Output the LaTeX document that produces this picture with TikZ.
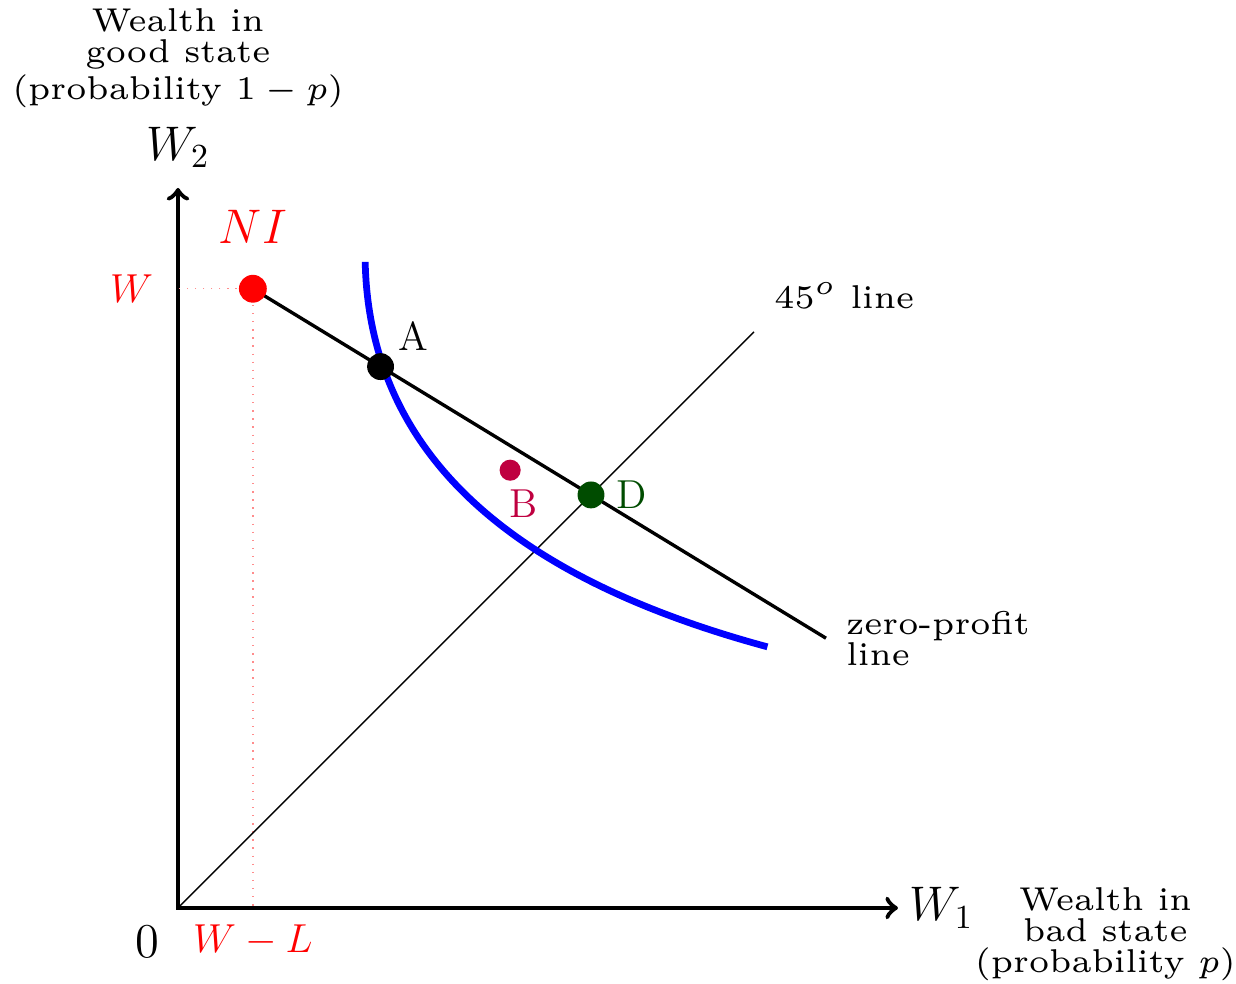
\documentclass[tikz,border=0pt]{standalone}
\usepackage{amsmath}
\usetikzlibrary{positioning,calc}
\colorlet{dgreen}{green!30!black}

\begin{document}
\begin{tikzpicture}[
  >=to,
  axis/.style={<->,line width=1.4pt},
  dot/.style={circle,fill,inner sep=0pt,minimum size=2.8mm},
  guide/.style={red!45,dotted,thin},
  smtxt/.style={font=\fontsize{6}{5.65}\selectfont,scale=1.63,transform shape},
  stack/.style={smtxt,align=center},
  curve/.style={blue,line width=2pt},
  budget/.style={line width=1pt}
]

% ---- page frame ----
\useasboundingbox (-1.854,-0.792) rectangle (11.021,9.458);

% ---- axes ----
\coordinate (O) at (0,0);
\coordinate (xend) at (7.5,0);
\coordinate (yend) at (0,7.5);
\coordinate (xt) at (9.66,-0.27);
\coordinate (yt) at (0,8.85);
\draw[axis] (yend) -- (O) -- (xend);

\node[font=\Large,below left=0.7mm and 0.75mm of O] (zero) {$0$};
\node[font=\Large,right=0mm of xend] (W1) {$W_1$};
\node[font=\Large,above=0.9mm of yend] (W2) {$W_2$};
\node[stack] (xtxt) at (xt) {Wealth in\\bad state\\(probability $p$)};
\node[stack] (ytxt) at (yt) {Wealth in\\good state\\(probability $1-p$)};

% ---- key points ----
\coordinate (ni) at (0.78,6.45);
\coordinate (zp) at (6.75,2.81);
\coordinate (ff) at (6,6);
\coordinate (b) at (3.46,4.56);
\coordinate (a) at ($(ni)!0.2228!(zp)$);
\coordinate (d) at ($(ni)!0.59!(zp)$);
\coordinate (wy) at (ni -| O);
\coordinate (wl) at (ni |- O);
\coordinate (ictop) at (1.95,6.73);
\coordinate (icend) at (6.14,2.72);

% ---- lines ----
\draw[guide] (ni) -- (wy);
\draw[guide] (ni) -- (wl);
\draw[thin] (O) -- (ff);
\draw[budget] (ni) -- (zp);
\draw[curve] (ictop) .. controls (2.0,4.4) and (4.0,3.3) .. (icend);

% ---- dots ----
\node[dot,red,minimum size=2.9mm] (NI) at (ni) {};
\node[dot] (A) at (a) {};
\node[dot,dgreen] (D) at (d) {};
\node[dot,purple,minimum size=2.2mm] (B) at (b) {};

% ---- labels ----
\node[red,font=\Large,above=2mm of NI] (NIlbl) {$NI$};
\node[font=\large,above right=-0.6mm and -0.4mm of A] (Albl) {A};
\node[font=\large,dgreen,right=-0.1mm of D] (Dlbl) {D};
\node[font=\large,purple,below right=0mm and -2.1mm of B] (Blbl) {B};
\node[red,font=\large,left=1.35mm of wy] (Wlbl) {$W$};
\node[red,font=\large,below=0.5mm of wl] (WLlbl) {$W-L$};
\node[smtxt,above right=0.4mm and 0.1mm of ff] (fflbl) {$45^o$ line};
\node[smtxt,align=left,right=0.1mm of zp] (zplbl) {zero-profit\\line};

\end{tikzpicture}
\end{document}
